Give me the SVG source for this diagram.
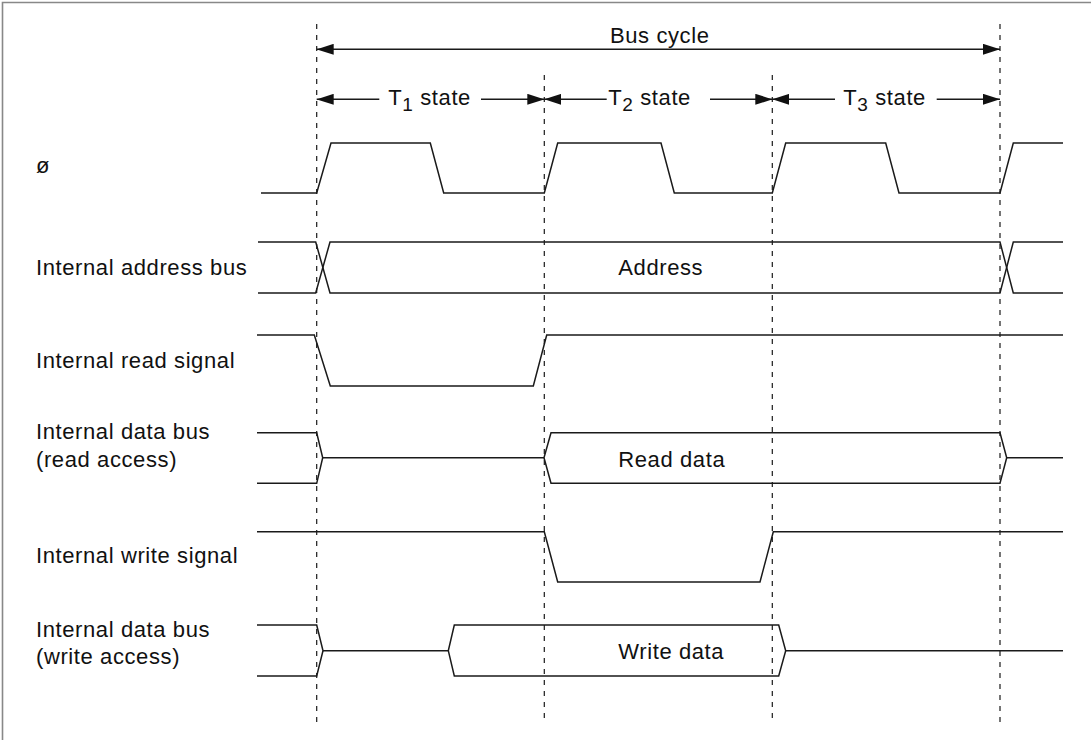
<svg xmlns="http://www.w3.org/2000/svg" width="1091" height="740" viewBox="0 0 1091 740">
<style>
text{font-family:"Liberation Sans",Arial,sans-serif;font-size:22px;letter-spacing:0.6px;fill:#111}
.sig{fill:none;stroke:#1a1a1a;stroke-width:1.5;stroke-linejoin:miter}
.dash{stroke:#1a1a1a;stroke-width:1.2;stroke-dasharray:5 6}
.arr{stroke:#1a1a1a;stroke-width:1.4}
.frame{fill:none;stroke:#888;stroke-width:1.6}
</style>
<defs>
<marker id="ah" viewBox="0 0 17 11" refX="17" refY="5.5" markerWidth="17" markerHeight="11" markerUnits="userSpaceOnUse" orient="auto-start-reverse">
<path d="M0,0 L17,5.5 L0,11 z" fill="#111"/>
</marker>
</defs>
<rect width="1091" height="740" fill="#fff"/>
<path class="frame" d="M2.5,740 V2.5 H1091"/>

<g id="gridlines">
<line class="dash" x1="316.7" y1="24" x2="316.7" y2="723"/>
<line class="dash" x1="544.3" y1="75" x2="544.3" y2="721"/>
<line class="dash" x1="772.3" y1="75" x2="772.3" y2="721"/>
<line class="dash" x1="1000" y1="24" x2="1000" y2="723"/>
</g>

<g id="connectors">
<line class="arr" x1="316.7" y1="49.3" x2="1000" y2="49.3" marker-start="url(#ah)" marker-end="url(#ah)"/>
<line class="arr" x1="379.3" y1="99.3" x2="316.7" y2="99.3" marker-end="url(#ah)"/>
<line class="arr" x1="481" y1="99.3" x2="544.3" y2="99.3" marker-end="url(#ah)"/>
<line class="arr" x1="606.7" y1="99.3" x2="544.3" y2="99.3" marker-end="url(#ah)"/>
<line class="arr" x1="710" y1="99.3" x2="772.3" y2="99.3" marker-end="url(#ah)"/>
<line class="arr" x1="835" y1="99.3" x2="772.3" y2="99.3" marker-end="url(#ah)"/>
<line class="arr" x1="936.7" y1="99.3" x2="1000" y2="99.3" marker-end="url(#ah)"/>
</g>

<g id="timing-labels">
<text x="610" y="42.7">Bus cycle</text>
<text x="388.3" y="105">T<tspan font-size="19" dy="6">1</tspan><tspan dy="-6"> state</tspan></text>
<text x="608.3" y="105">T<tspan font-size="19" dy="6">2</tspan><tspan dy="-6"> state</tspan></text>
<text x="843.3" y="105">T<tspan font-size="19" dy="6">3</tspan><tspan dy="-6"> state</tspan></text>
</g>

<g id="clock">
<text x="36" y="173">ø</text>
<path class="sig" d="M261,193 H316.7 L331,143 H430.3 L443.7,193 H544.3 L557.7,143 H661 L674.3,193 H772.3 L785.7,143 H885.7 L899,193 H1000 L1013.3,143 H1063"/>
</g>

<g id="address-bus">
<text x="36" y="275">Internal address bus</text>
<path class="sig" d="M258,242 H315.7 L330,293 H1000 L1013.3,242 H1063"/>
<path class="sig" d="M258,293 H315.7 L330,242 H1000 L1013.3,293 H1063"/>
<text x="618.3" y="275">Address</text>
</g>

<g id="read-signal">
<text x="36" y="368.3">Internal read signal</text>
<path class="sig" d="M257,335 H314.3 L330.3,386 H533.3 L546.7,335 H1063"/>
</g>

<g id="read-data-bus">
<text x="36" y="439.3">Internal data bus</text>
<text x="36" y="466.8">(read access)</text>
<path class="sig" d="M257,432.7 H316.7 L322.7,457.7 L316.7,483.3 H257"/>
<path class="sig" d="M322.7,457.7 H544 L551,432.7 H1000 L1006.7,457.7 L1000,483.3 H551 L544,457.7"/>
<path class="sig" d="M1006.7,457.7 H1063"/>
<text x="618.3" y="466.7">Read data</text>
</g>

<g id="write-signal">
<text x="36" y="562.7">Internal write signal</text>
<path class="sig" d="M257,531.7 H544.3 L557.7,582 H760 L773.3,531.7 H1063"/>
</g>

<g id="write-data-bus">
<text x="36" y="636.7">Internal data bus</text>
<text x="36" y="664">(write access)</text>
<path class="sig" d="M257,625 H316.7 L323,650.7 L316.7,676 H257"/>
<path class="sig" d="M323,650.7 H448.3 L454.3,625 H778.7 L785.7,650.7 L778.7,676 H454.3 L448.3,650.7"/>
<path class="sig" d="M785.7,650.7 H1063"/>
<text x="618.3" y="659.3">Write data</text>
</g>
</svg>
